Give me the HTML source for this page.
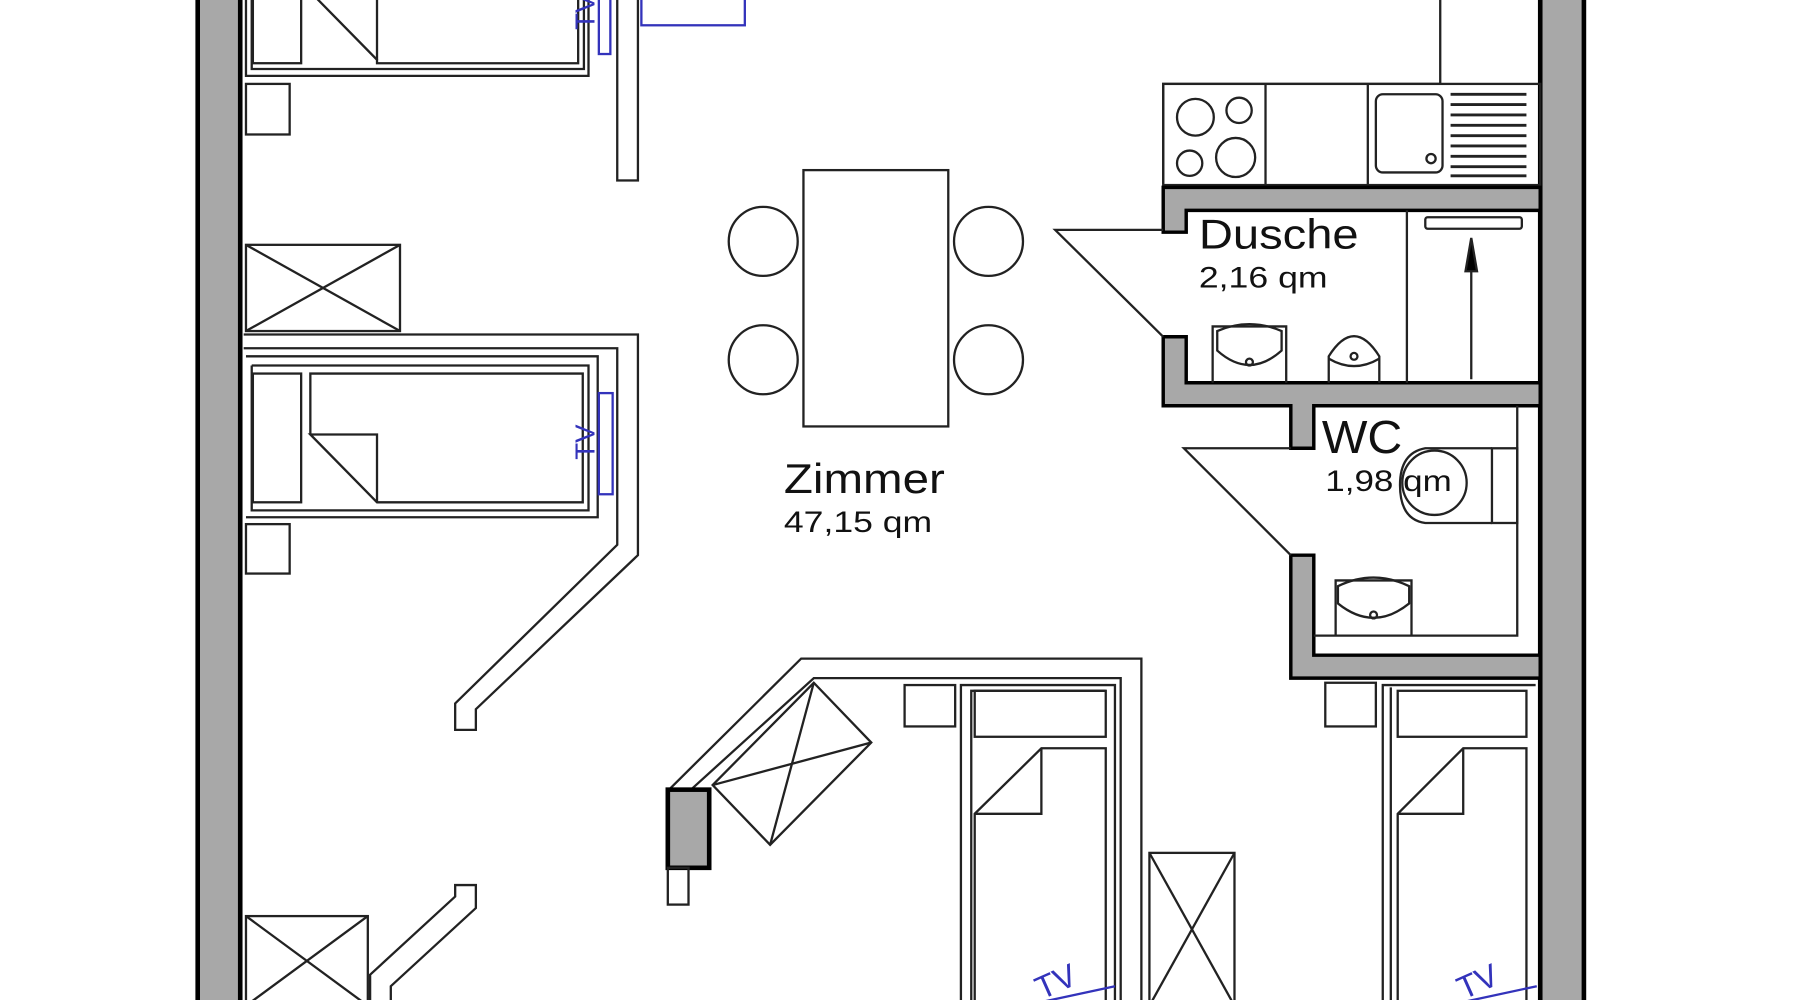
<!DOCTYPE html>
<html><head><meta charset="utf-8"><style>
html,body{margin:0;padding:0;background:#fff;width:1800px;height:1000px;overflow:hidden}
svg{display:block}
text{font-family:"Liberation Sans",sans-serif;fill:#111}
</style></head><body>
<svg width="1800" height="1000" viewBox="0 0 1566 870" preserveAspectRatio="none" xmlns="http://www.w3.org/2000/svg">
<g fill="none" stroke="#222" stroke-width="2">
<rect x="172" y="-10" width="37" height="900" fill="#a8a8a8" stroke="#000" stroke-width="4"/>
<rect x="1340" y="-10" width="38" height="900" fill="#a8a8a8" stroke="#000" stroke-width="4"/>

<polyline points="214,-5 214,66 512,66 512,-5"/>
<polyline points="219,-5 219,60 508,60 508,-5"/>
<rect x="220" y="-5" width="42" height="60"/>
<polyline points="272,-5 328,52 328,55 503,55 503,-5"/>
<line x1="328" y1="-5" x2="328" y2="52"/>
<rect x="214" y="73" width="38" height="44"/>
<rect x="537" y="-5" width="18" height="162"/>
<rect x="521" y="-5" width="10" height="52" stroke="#3333bb"/>
<rect x="558" y="-5" width="90" height="27" stroke="#3333bb"/>

<rect x="214" y="213" width="134" height="75"/>
<line x1="214" y1="213" x2="348" y2="288"/><line x1="348" y1="213" x2="214" y2="288"/>

<polyline points="212,291 555,291 555,483 414,617 414,635 396,635 396,612 537,474 537,303 212,303"/>
<polyline points="214,310 520,310 520,450 214,450"/>
<polyline points="219,318 512,318 512,444 219,444 219,318"/>
<rect x="220" y="325" width="42" height="112"/>
<polyline points="270,378 270,325 507,325 507,437 328,437 270,378 328,378 328,437"/>
<rect x="521" y="342" width="12" height="88" stroke="#3333bb"/>
<rect x="214" y="456" width="38" height="43"/>

<polyline points="340,875 340,858 414,790 414,770 396,770 396,780 322,848 322,875"/>
<rect x="214" y="797" width="106" height="80"/>
<line x1="214" y1="797" x2="320" y2="875"/><line x1="320" y1="797" x2="214" y2="875"/>

<rect x="699" y="148" width="126" height="223"/>
<circle cx="664" cy="210" r="30"/><circle cx="860" cy="210" r="30"/>
<circle cx="664" cy="313" r="30"/><circle cx="860" cy="313" r="30"/>

<polyline points="1253,-5 1253,73 1012,73 1012,160"/>
<rect x="1012" y="73" width="328" height="88"/>
<line x1="1101" y1="73" x2="1101" y2="161"/><line x1="1190" y1="73" x2="1190" y2="161"/>
<circle cx="1040" cy="102" r="16"/><circle cx="1078" cy="96" r="11"/>
<circle cx="1035" cy="142" r="11"/><circle cx="1075" cy="137" r="17"/>
<rect x="1197" y="82" width="58" height="68" rx="6"/>
<circle cx="1245" cy="138" r="4"/>
<g stroke-width="2.5"><line x1="1262" y1="82" x2="1328" y2="82"/><line x1="1262" y1="91" x2="1328" y2="91"/><line x1="1262" y1="100" x2="1328" y2="100"/><line x1="1262" y1="109" x2="1328" y2="109"/><line x1="1262" y1="118" x2="1328" y2="118"/><line x1="1262" y1="127" x2="1328" y2="127"/><line x1="1262" y1="136" x2="1328" y2="136"/><line x1="1262" y1="145" x2="1328" y2="145"/><line x1="1262" y1="153" x2="1328" y2="153"/></g>

<g fill="#a8a8a8" stroke="#000" stroke-width="3">
<polygon points="1012,163 1340,163 1340,183 1032,183 1032,202 1012,202"/>
<polygon points="1012,293 1032,293 1032,333 1340,333 1340,353 1143,353 1143,390 1123,390 1123,353 1012,353"/>
<polygon points="1123,483 1143,483 1143,570 1340,570 1340,590 1123,590"/>
</g>
<polyline points="1012,200 918,200 1012,293"/>
<line x1="1224" y1="183" x2="1224" y2="333"/>
<rect x="1240" y="189" width="84" height="10" rx="2"/>
<line x1="1280" y1="330" x2="1280" y2="220"/>
<polygon points="1280,207 1275,236 1285,236" fill="#000"/>
<polyline points="1055,333 1055,284 1119,284 1119,333"/>
<path d="M1059,288 Q1087,276 1115,288 L1115,305 Q1087,330 1059,305 Z"/>
<circle cx="1087" cy="315" r="3"/>
<path d="M1156,333 L1156,310 Q1178,275 1200,310 L1200,333"/>
<path d="M1156,312 Q1178,325 1200,312"/>
<circle cx="1178" cy="310" r="3"/>
<polyline points="1123,390 1030,390 1123,483"/>
<polyline points="1320,353 1320,553 1143,553"/>
<path d="M1298,390 L1240,390 Q1218,394 1218,422 Q1218,452 1240,455 L1298,455"/>
<circle cx="1248" cy="420" r="28"/>
<rect x="1298" y="390" width="22" height="65"/>
<polyline points="1162,553 1162,505 1228,505 1228,553"/>
<path d="M1164,510 Q1195,495 1226,510 L1226,525 Q1195,550 1164,525 Z"/>
<circle cx="1195" cy="535" r="3"/>

<polyline points="583,686 697,573 993,573 993,875"/>
<polyline points="600,688 708,590 975,590 975,875"/>
<polygon points="708,594 758,646 670,735 620,683"/>
<line x1="708" y1="594" x2="670" y2="735"/><line x1="758" y1="646" x2="620" y2="683"/>
<rect x="581" y="687" width="36" height="68" fill="#a8a8a8" stroke="#000" stroke-width="4"/>
<rect x="581" y="755" width="18" height="32"/>
<rect x="787" y="596" width="44" height="36"/>
<polyline points="836,875 836,596 970,596 970,875"/>
<polyline points="845,875 845,601 962,601"/>
<rect x="848" y="601" width="114" height="40"/>
<polyline points="848,875 848,708 906,651 962,651 962,875"/>
<polyline points="848,708 906,708 906,651"/>
<rect x="1000" y="742" width="74" height="135"/>
<line x1="1000" y1="742" x2="1074" y2="875"/><line x1="1074" y1="742" x2="1000" y2="875"/>
<rect x="1153" y="594" width="44" height="38"/>
<polyline points="1203,875 1203,596 1336,596"/>
<line x1="1210" y1="598" x2="1210" y2="875"/>
<rect x="1216" y="601" width="112" height="40"/>
<polyline points="1216,875 1216,708 1273,651 1328,651 1328,875"/>
<polyline points="1216,708 1273,708 1273,651"/>
<line x1="905" y1="872" x2="970" y2="858" stroke="#3333bb"/>
<line x1="1272" y1="872" x2="1337" y2="858" stroke="#3333bb"/>
</g>

<g font-size="24">
<text transform="translate(517,26) rotate(-90)" style="fill:#3333bb">TV</text>
<text transform="translate(517,400) rotate(-90)" style="fill:#3333bb">TV</text>
<text transform="translate(906,870) rotate(-24)" style="fill:#3333bb" font-size="28">TV</text>
<text transform="translate(1273,870) rotate(-24)" style="fill:#3333bb" font-size="28">TV</text>
</g>

<text x="682" y="429" font-size="36" textLength="140" lengthAdjust="spacingAndGlyphs">Zimmer</text>
<text x="682" y="463" font-size="26" textLength="129" lengthAdjust="spacingAndGlyphs">47,15 qm</text>
<text x="1043" y="216" font-size="36" textLength="139" lengthAdjust="spacingAndGlyphs">Dusche</text>
<text x="1043" y="250" font-size="26" textLength="112" lengthAdjust="spacingAndGlyphs">2,16 qm</text>
<text x="1150" y="394" font-size="40" textLength="70" lengthAdjust="spacingAndGlyphs">WC</text>
<text x="1153" y="427" font-size="26" textLength="110" lengthAdjust="spacingAndGlyphs">1,98 qm</text>
</svg>
</body></html>
